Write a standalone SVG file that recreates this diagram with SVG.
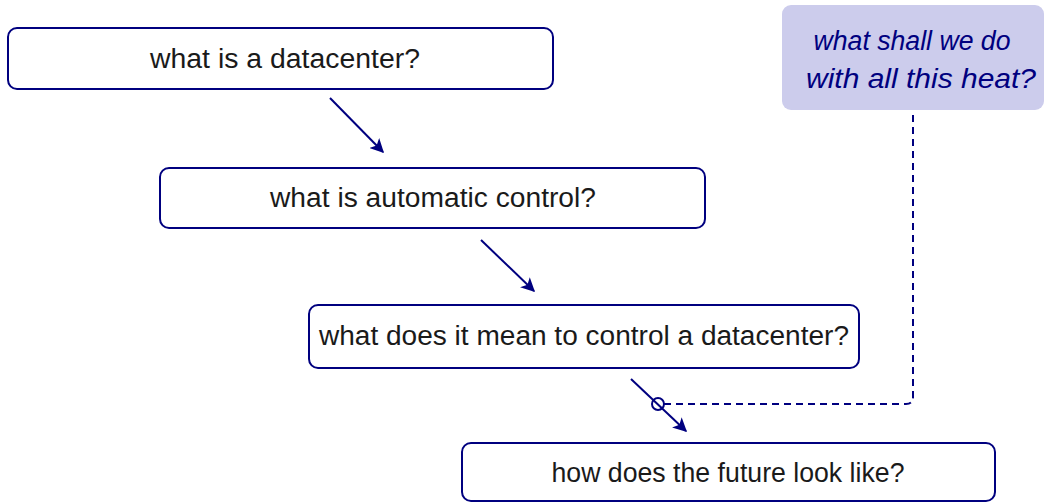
<svg xmlns="http://www.w3.org/2000/svg" width="1044" height="503" viewBox="0 0 1044 503">
  <defs>
    <marker id="arrowhead" viewBox="0 0 10 10" refX="9" refY="5" markerWidth="7" markerHeight="7" markerUnits="strokeWidth" orient="auto">
      <path d="M0,0 L10,5 L0,10 L2.5,5 Z" fill="#00007f"/>
    </marker>
    <style>
      .box { fill: #ffffff; stroke: #00007f; stroke-width: 2; }
      .note { fill: #ccccec; stroke: none; }
      .label { font-family: "Liberation Sans", "DejaVu Sans", sans-serif; font-size: 27px; fill: #1a1a1a; text-anchor: middle; }
      .note-label { font-family: "Liberation Sans", "DejaVu Sans", sans-serif; font-size: 27px; font-style: italic; fill: #00007f; text-anchor: middle; }
      .edge { stroke: #00007f; stroke-width: 2; fill: none; marker-end: url(#arrowhead); }
      .dashed { stroke: #00007f; stroke-width: 2; fill: none; stroke-dasharray: 7 5; }
    </style>
  </defs>

  <g id="node-datacenter">
    <rect class="box" x="8" y="28" width="545" height="61" rx="9"/>
    <text class="label" x="285" y="68" textLength="270" lengthAdjust="spacingAndGlyphs">what is a datacenter?</text>
  </g>

  <g id="node-control">
    <rect class="box" x="160" y="168" width="545" height="60" rx="9"/>
    <text class="label" x="433" y="207" textLength="326" lengthAdjust="spacingAndGlyphs">what is automatic control?</text>
  </g>

  <g id="node-control-datacenter">
    <rect class="box" x="309" y="305" width="550" height="63" rx="9"/>
    <text class="label" x="584" y="345" textLength="530" lengthAdjust="spacingAndGlyphs">what does it mean to control a datacenter?</text>
  </g>

  <g id="node-future">
    <rect class="box" x="462" y="443" width="533" height="58" rx="9"/>
    <text class="label" x="728" y="482" textLength="353" lengthAdjust="spacingAndGlyphs">how does the future look like?</text>
  </g>

  <g id="node-heat">
    <rect class="note" x="782" y="5" width="262" height="105" rx="9"/>
    <text class="note-label" x="912" y="50" textLength="197" lengthAdjust="spacingAndGlyphs">what shall we do</text>
    <text class="note-label" x="921" y="88" textLength="230" lengthAdjust="spacingAndGlyphs">with all this heat?</text>
  </g>

  <g id="connectors">
    <line class="edge" x1="330" y1="98" x2="383" y2="152"/>
    <line class="edge" x1="481" y1="240" x2="534" y2="291"/>
    <line class="edge" x1="631" y1="379" x2="686" y2="431"/>
    <circle cx="658" cy="404" r="6" fill="none" stroke="#00007f" stroke-width="2"/>
    <path class="dashed" d="M664,404 H906 Q913,404 913,397 V110"/>
  </g>
</svg>
